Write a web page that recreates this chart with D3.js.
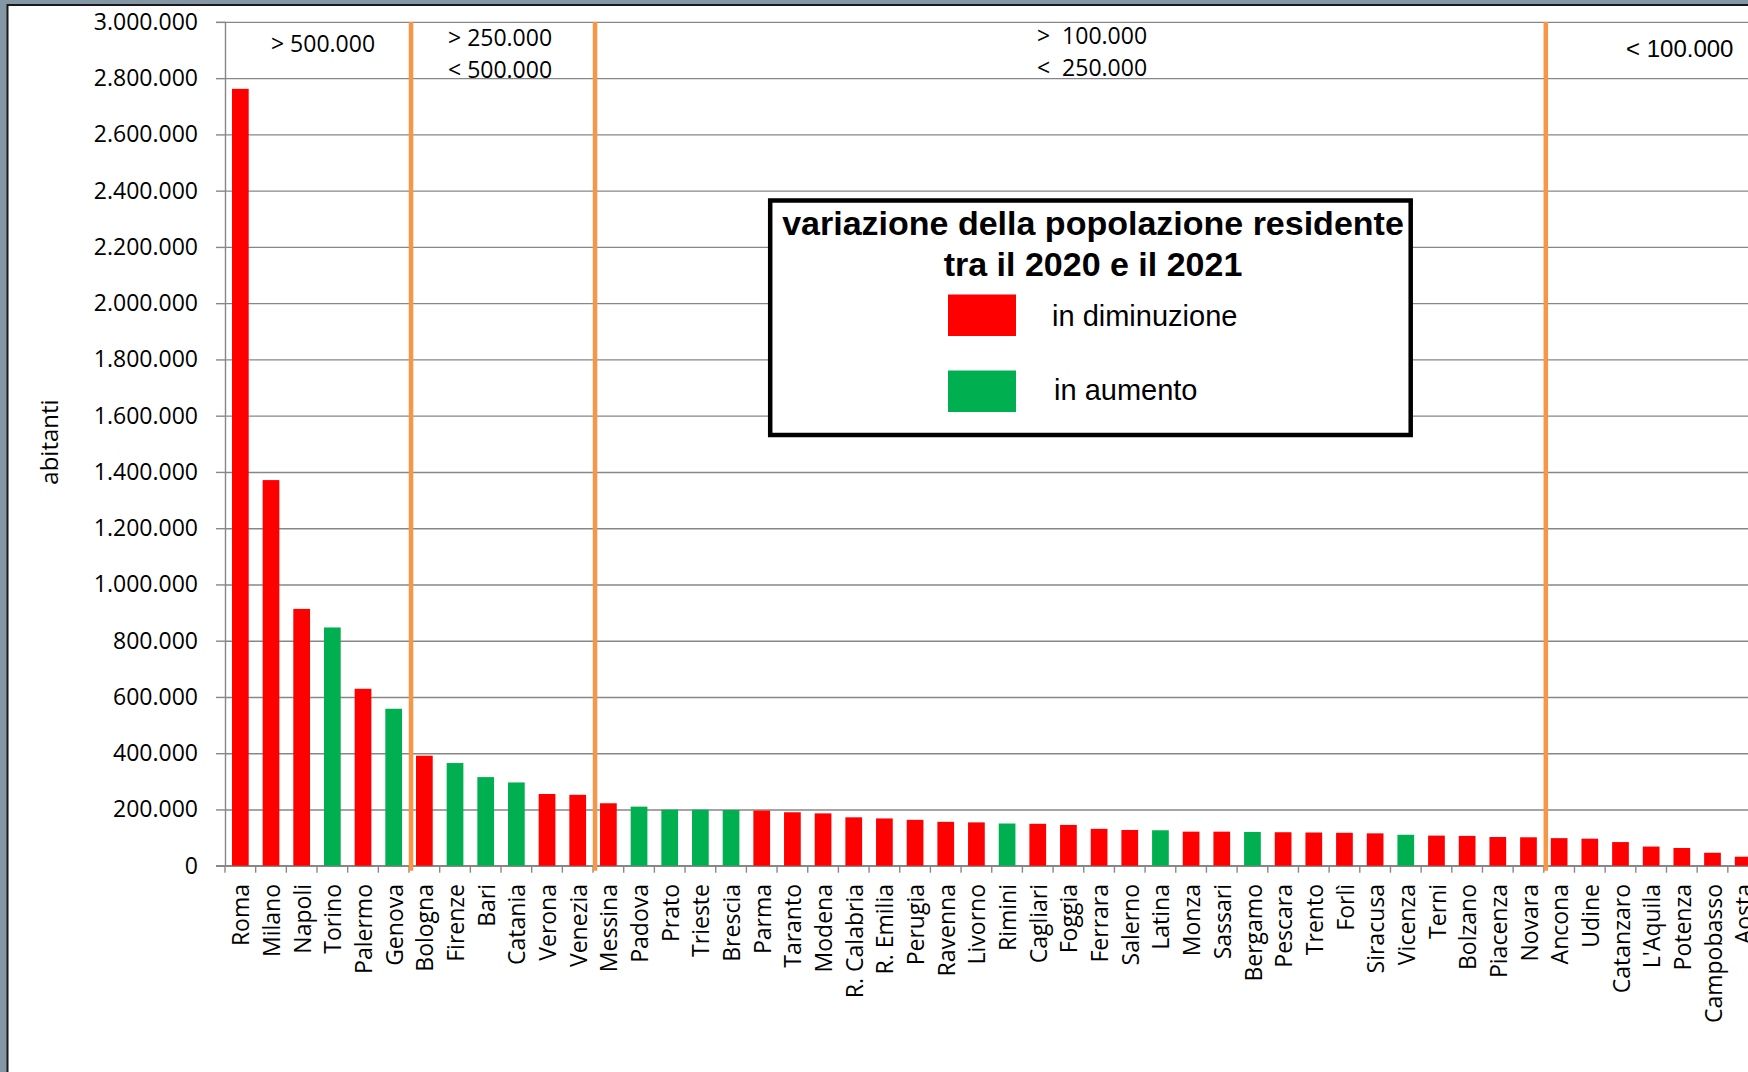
<!DOCTYPE html>
<html><head><meta charset="utf-8">
<script src="https://cdn.jsdelivr.net/npm/d3@7"></script>
<style>
html,body{margin:0;padding:0;background:#fff;overflow:hidden;}
svg{display:block;}
text{white-space:pre;}
</style></head>
<body>
<svg id="chart" width="1748" height="1072"></svg>
<script>
// ---------- data ----------
const cities = ["Roma","Milano","Napoli","Torino","Palermo","Genova","Bologna","Firenze","Bari","Catania",
  "Verona","Venezia","Messina","Padova","Prato","Trieste","Brescia","Parma","Taranto","Modena",
  "R. Calabria","R. Emilia","Perugia","Ravenna","Livorno","Rimini","Cagliari","Foggia","Ferrara","Salerno",
  "Latina","Monza","Sassari","Bergamo","Pescara","Trento","Forlì","Siracusa","Vicenza","Terni",
  "Bolzano","Piacenza","Novara","Ancona","Udine","Catanzaro","L'Aquila","Potenza","Campobasso","Aosta"];
const population = [2762000,1371000,913000,847000,629000,558000,391000,365000,315000,296000,
  255000,252000,222000,210000,199000,199000,198000,196000,190000,186000,
  172000,168000,163000,156000,154000,150000,149000,145000,131000,127000,
  126000,121000,121000,120000,119000,118000,117000,115000,110000,107000,
  106000,102000,101000,98000,96000,84000,68000,63000,46000,32000];
const trend = ["dim","dim","dim","aum","dim","aum","dim","aum","aum","aum",
  "dim","dim","dim","aum","aum","aum","aum","dim","dim","dim",
  "dim","dim","dim","dim","dim","aum","dim","dim","dim","dim",
  "aum","dim","dim","aum","dim","dim","dim","dim","aum","dim",
  "dim","dim","dim","dim","dim","dim","dim","dim","dim","dim"];
const yTicks = [0,200000,400000,600000,800000,1000000,1200000,1400000,1600000,1800000,
  2000000,2200000,2400000,2600000,2800000,3000000];
const sectionStarts = ["Bologna","Messina","Ancona"];
const sectionLabels = [["> 500.000"],["> 250.000","< 500.000"],[">  100.000","<  250.000"],["< 100.000"]];
const legendTitle = ["variazione della popolazione residente","tra il 2020 e il 2021"];
const legendKeys = ["dim","aum"];
const legendLabels = ["in diminuzione","in aumento"];
const yTitle = "abitanti";

// ---------- setup ----------
const W = 1748, H = 1072;
const colors = {dim:"#FF0000", aum:"#00B050"};
const svg = d3.select("#chart");
const locale = d3.formatLocale({decimal:",", thousands:".", grouping:[3], currency:["€",""]});
const fmt = locale.format(",d");

// frame
svg.append("rect").attr("width",W).attr("height",H).attr("fill","#8497a4");
svg.append("rect").attr("x",8).attr("y",5).attr("width",W).attr("height",H).attr("fill","#fff");
svg.append("line").attr("x1",7.5).attr("x2",W).attr("y1",5).attr("y2",5).attr("stroke","#1a1a1a").attr("stroke-width",2);
svg.append("line").attr("x1",7.5).attr("x2",7.5).attr("y1",4).attr("y2",H).attr("stroke","#1a1a1a").attr("stroke-width",2);

const x0 = 225, step = 30.67;
const x = d3.scaleBand().domain(cities).range([x0, x0 + cities.length*step])
  .paddingInner(0.455).paddingOuter(0.2275);
const y = d3.scaleLinear().domain([0,3000000]).range([865.7, 21.9]);
const gap = (x.step() - x.bandwidth())/2;
const boundary = c => x(c) - gap;

const grey = "#878787";

// gridlines
svg.append("g").attr("transform",`translate(${x0},0)`)
  .call(d3.axisLeft(y).tickValues(yTicks).tickSize(-(W - x0)).tickFormat(""))
  .call(g => g.select(".domain").remove())
  .call(g => g.selectAll("line").attr("stroke",grey).attr("stroke-width",1.4));

// y axis
svg.append("g").attr("transform",`translate(${x0},0)`)
  .call(d3.axisLeft(y).tickValues(yTicks).tickSize(9).tickPadding(18).tickFormat(fmt))
  .call(g => g.select(".domain").attr("stroke",grey).attr("stroke-width",1.4))
  .call(g => g.selectAll(".tick line").attr("stroke",grey).attr("stroke-width",1.4))
  .call(g => g.selectAll("text").attr("font-family","'Open Sans'").attr("font-size",23).attr("fill","#000"));

// x axis line + boundary ticks
svg.append("line").attr("x1",216).attr("x2",W).attr("y1",y(0)).attr("y2",y(0))
  .attr("stroke",grey).attr("stroke-width",1.4);
const bounds = cities.map(c => boundary(c)).concat([boundary(cities[cities.length-1]) + x.step()]);
svg.append("g").selectAll("line").data(bounds).join("line")
  .attr("x1",d=>d).attr("x2",d=>d).attr("y1",y(0)).attr("y2",y(0)+7)
  .attr("stroke",grey).attr("stroke-width",1.4);

// bars
svg.append("g").selectAll("rect").data(cities).join("rect")
  .attr("x",c=>x(c)).attr("width",x.bandwidth())
  .attr("y",(c,i)=>y(population[i])).attr("height",(c,i)=>y(0)-y(population[i]))
  .attr("fill",(c,i)=>colors[trend[i]]);

// x labels
svg.append("g").selectAll("text").data(cities).join("text")
  .attr("transform",c=>`translate(${x(c)+x.bandwidth()/2 + 1},884) rotate(-90)`)
  .attr("text-anchor","end").attr("dy","0.35em")
  .attr("font-family","'Open Sans'").attr("font-size",23).attr("fill","#000")
  .text(c=>c);

// orange section separators
svg.append("g").selectAll("line").data(sectionStarts).join("line")
  .attr("x1",c=>boundary(c)+2).attr("x2",c=>boundary(c)+2)
  .attr("y1",y(3000000)).attr("y2",y(0)+5)
  .attr("stroke","#F79646").attr("stroke-width",4.5);

// section labels
const secPos = [
  {x:323, y:[52], anchor:"middle", font:"'Open Sans'", size:23},
  {x:448, y:[45.5,77.5], anchor:"start", font:"'Open Sans'", size:23},
  {x:1037, y:[43.5,75.5], anchor:"start", font:"'Open Sans'", size:23},
  {x:1626, y:[57], anchor:"start", font:"'Liberation Sans'", size:24}
];
sectionLabels.forEach((lines,i) => {
  const p = secPos[i];
  lines.forEach((t,j) => {
    svg.append("text").attr("x",p.x).attr("y",p.y[j]).attr("text-anchor",p.anchor)
      .attr("font-family",p.font).attr("font-size",p.size).attr("fill","#000").text(t);
  });
});

// y axis title
svg.append("text").attr("transform","translate(50,442) rotate(-90)")
  .attr("text-anchor","middle").attr("dy","0.35em")
  .attr("font-family","'Open Sans'").attr("font-size",24).attr("fill","#000").text(yTitle);

// legend
const lg = svg.append("g");
lg.append("rect").attr("x",770.2).attr("y",200.5).attr("width",640.5).attr("height",234.5)
  .attr("fill","#fff").attr("stroke","#000").attr("stroke-width",4.5);
legendTitle.forEach((t,i) => {
  lg.append("text").attr("x",1093).attr("y",[235,276][i]).attr("text-anchor","middle")
    .attr("font-family","'Liberation Sans', Arial").attr("font-weight","bold").attr("font-size",34)
    .attr("fill","#000").text(t);
});
legendKeys.forEach((k,i) => {
  lg.append("rect").attr("x",948).attr("y",[294.5,370.5][i]).attr("width",68).attr("height",41.5)
    .attr("fill",colors[k]);
  lg.append("text").attr("x",[1052,1054][i]).attr("y",[326,400][i])
    .attr("font-family","'Liberation Sans', Arial").attr("font-size",29).attr("fill","#000")
    .text(legendLabels[i]);
});
</script>
</body></html>
